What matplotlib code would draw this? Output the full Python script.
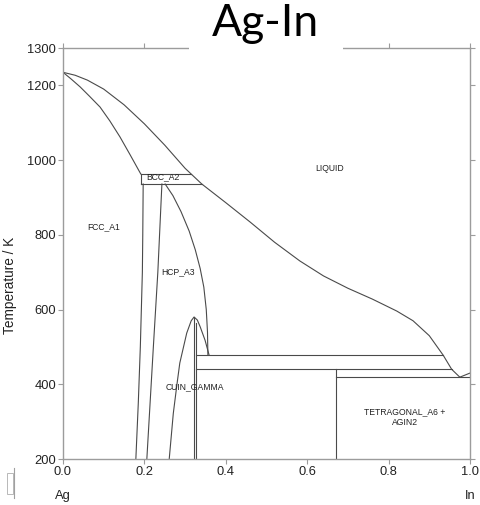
"""
Ag-In binary phase diagram (temperature vs. mole fraction In).
Boundaries are read off the reference figure.
"""

import matplotlib
matplotlib.use("Agg")
import matplotlib.pyplot as plt
from matplotlib.patches import Rectangle
from matplotlib.lines import Line2D

# ── Data (mole fraction In, temperature in K) ──────────────────────────────
liquidus_x = [0.0, 0.03, 0.06, 0.10, 0.15, 0.20, 0.25, 0.30, 0.341, 0.40,
              0.46, 0.52, 0.582, 0.64, 0.70, 0.76, 0.82, 0.86, 0.90, 0.934,
              0.955, 0.975]
liquidus_T = [1235, 1227, 1214, 1190, 1148, 1097, 1040, 978, 936, 886,
              834, 780, 730, 690, 657, 628, 596, 570, 530, 478,
              440, 419]

in_liquidus_x = [0.975, 1.0]
in_liquidus_T = [419, 430]

fcc_solidus_x = [0.0, 0.02, 0.042, 0.065, 0.091, 0.115, 0.14, 0.165, 0.191]
fcc_solidus_T = [1235, 1217, 1196, 1171, 1142, 1105, 1062, 1014, 963]

fcc_solvus_x = [0.197, 0.196, 0.195, 0.190, 0.185, 0.179]
fcc_solvus_T = [936, 800, 700, 500, 350, 200]

hcp_left_x = [0.243, 0.233, 0.222, 0.214, 0.206]
hcp_left_T = [936, 700, 500, 350, 200]

hcp_right_x = [0.251, 0.270, 0.290, 0.310, 0.325, 0.337, 0.346, 0.352, 0.355,
               0.356]
hcp_right_T = [936, 905, 862, 810, 760, 710, 660, 600, 540, 478]

gamma_dome_x = [0.261, 0.271, 0.280, 0.287, 0.304, 0.315, 0.322, 0.330, 0.337,
                0.349, 0.359]
gamma_dome_T = [200, 322, 400, 457, 537, 570, 580, 572, 554, 518, 478]

# vertical lines: (x, T_top, T_bottom)
verticals = [(0.191, 963, 936), (0.322, 580, 200), (0.328, 565, 200),
             (0.671, 440, 200)]
# horizontal invariants: (T, x_left, x_right)
horizontals = [(963, 0.191, 0.315), (936, 0.191, 0.341), (478, 0.328, 0.934),
               (440, 0.328, 0.955), (419, 0.671, 1.0)]

phase_labels = ["LIQUID", "FCC_A1", "BCC_A2", "HCP_A3", "CUIN_GAMMA",
                "TETRAGONAL_A6 +\nAGIN2"]
label_x = [0.656, 0.10, 0.246, 0.283, 0.325, 0.840]
label_T = [978, 823, 955, 700, 394, 313]

x_ticks = [0.0, 0.2, 0.4, 0.6, 0.8, 1.0]
y_ticks = [200, 400, 600, 800, 1000, 1200, 1300]

LINE = "#4a4a4a"
SPINE = "#9c9c9c"
TEXT = "#222222"
FONT = "Liberation Sans"

# ── Figure ────────────────────────────────────────────────────────────────
W, H = 481, 505
fig = plt.figure(figsize=(W / 100, H / 100), dpi=100)
ax = fig.add_axes([63 / W, 1 - 459 / H, (470 - 63) / W, (459 - 48) / H])

lw = 0.8
for xs, ts in [(liquidus_x, liquidus_T), (in_liquidus_x, in_liquidus_T),
               (fcc_solidus_x, fcc_solidus_T), (fcc_solvus_x, fcc_solvus_T),
               (hcp_left_x, hcp_left_T), (hcp_right_x, hcp_right_T),
               (gamma_dome_x, gamma_dome_T)]:
    ax.plot(xs, ts, color=LINE, lw=lw)
for x, t0, t1 in verticals:
    ax.plot([x, x], [t0, t1], color=LINE, lw=lw)
for t, x0, x1 in horizontals:
    ax.plot([x0, x1], [t, t], color=LINE, lw=lw)

for txt, x, t in zip(phase_labels, label_x, label_T):
    ax.text(x, t, txt, ha="center", va="center", fontsize=6.2,
            family=FONT, color=TEXT, linespacing=1.3)

ax.set_xlim(0, 1)
ax.set_ylim(200, 1300)
ax.set_xticks(x_ticks)
ax.set_xticklabels([f"{v:.1f}" for v in x_ticks])
ax.set_yticks(y_ticks)
ax.tick_params(direction="out", length=3.5, width=0.8, color=SPINE,
               labelsize=9.3, pad=1.5, labelcolor=TEXT,
               top=True, right=True)
for lab in ax.get_xticklabels() + ax.get_yticklabels():
    lab.set_family(FONT)
for s in ax.spines.values():
    s.set_color(SPINE)
    s.set_linewidth(1.0)

ax.set_ylabel("Temperature / K", fontsize=9.8, family=FONT, color=TEXT)
ax.yaxis.set_label_coords(-0.113, 0.423)
ax.text(0.0, -0.09, "Ag", transform=ax.transAxes, ha="center", va="center",
        fontsize=9.3, family=FONT, color=TEXT)
ax.text(1.0, -0.09, "In", transform=ax.transAxes, ha="center", va="center",
        fontsize=9.3, family=FONT, color=TEXT)

# title sits on a white block that hides part of the top frame
fig.add_artist(Rectangle((189 / W, 1 - 53 / H), 154 / W, 53 / H,
                         transform=fig.transFigure, facecolor="white",
                         edgecolor="none", zorder=5))
fig.text(265 / W, 1 - 23 / H, "Ag-In", ha="center", va="center",
         fontsize=32, family="Lato", color="black", zorder=6)

# small leftover mark in the lower-left corner
fig.add_artist(Rectangle((7 / W, 1 - 494 / H), 6 / W, 21 / H,
                         transform=fig.transFigure, facecolor="none",
                         edgecolor="#b8b8b8", lw=0.7))
fig.add_artist(Line2D([14 / W, 14 / W], [1 - 498 / H, 1 - 468 / H],
                      transform=fig.transFigure, color="#a0a0a0", lw=0.8))

fig.savefig("out.png", dpi=100)
